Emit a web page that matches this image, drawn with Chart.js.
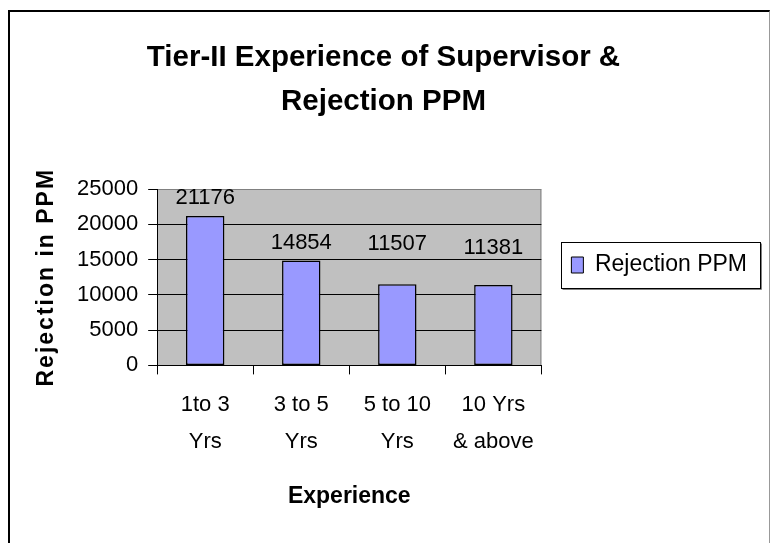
<!DOCTYPE html>
<html>
<head>
<meta charset="utf-8">
<script src="https://cdn.jsdelivr.net/npm/chart.js@4.4.1/dist/chart.umd.min.js"></script>
<style>
  html, body { margin: 0; padding: 0; background: #fff; overflow: hidden; }
  #wrap { position: relative; width: 770px; height: 543px; }
  #frame { position: absolute; left: 8px; top: 10px; width: 759px; height: 600px;
           border-left: 2px solid #000; border-top: 2px solid #000; border-right: 1px solid #999;
           pointer-events: none; }
  canvas { position: absolute; left: 0; top: 0; }
</style>
</head>
<body>
<div id="wrap">
  <canvas id="chart" width="770" height="543"></canvas>
  <div id="frame"></div>
</div>
<script>
// ---- chart data ----
const categories = [["1to 3", "Yrs"], ["3 to 5", "Yrs"], ["5 to 10", "Yrs"], ["10 Yrs", "& above"]];
const rejectionPPM = [21176, 14854, 11507, 11381];
const seriesName = "Rejection PPM";
const titleLines = ["Tier-II Experience of Supervisor &", "Rejection PPM"];
const yMax = 25000;
const yStep = 5000;
// how far each value label sits above its bar (px), as placed in the original
const labelRaise = [18, 18, 40, 37];

const FONT = "'Liberation Sans', Arial, sans-serif";

// grey plot area with grey top/right edge
const plotBack = {
  id: "plotBack",
  beforeDraw(chart) {
    const { ctx, chartArea: a } = chart;
    ctx.save();
    ctx.fillStyle = "#c0c0c0";
    ctx.fillRect(a.left, a.top, a.right - a.left, a.bottom - a.top);
    ctx.strokeStyle = "#808080";
    ctx.lineWidth = 1;
    ctx.beginPath();
    ctx.moveTo(a.left, a.top + 0.5);
    ctx.lineTo(a.right - 0.5, a.top + 0.5);
    ctx.lineTo(a.right - 0.5, a.bottom);
    ctx.stroke();
    ctx.restore();

    // spaced-out letters on the y axis title
    const s = chart.scales.y;
    if (s && !s._spaced) {
      const orig = s.drawTitle;
      s.drawTitle = function () {
        this.ctx.save();
        this.ctx.letterSpacing = "2px";
        orig.call(this);
        this.ctx.restore();
      };
      s._spaced = true;
    }
  }
};

// value labels over the bars
const valueLabels = {
  id: "valueLabels",
  afterDatasetsDraw(chart) {
    const { ctx } = chart;
    const meta = chart.getDatasetMeta(0);
    ctx.save();
    ctx.font = "22px " + FONT;
    ctx.fillStyle = "#000";
    ctx.textAlign = "center";
    ctx.textBaseline = "middle";
    meta.data.forEach((bar, i) => {
      ctx.fillText(String(rejectionPPM[i]), bar.x, bar.y - labelRaise[i]);
    });
    ctx.restore();
  }
};

// box around the legend
const legendFrame = {
  id: "legendFrame",
  afterDraw(chart) {
    const lg = chart.legend;
    if (!lg || !lg.legendHitBoxes.length) return;
    const h = lg.legendHitBoxes[0];
    const cy = h.top + h.height / 2;
    const x0 = Math.round(h.left - 10) + 0.5;
    const x1 = Math.round(h.left + h.width + 13) + 0.5;
    const y0 = Math.round(cy - 23) + 0.5;
    const y1 = Math.round(cy + 23) + 0.5;
    const { ctx } = chart;
    ctx.save();
    ctx.strokeStyle = "#000";
    ctx.lineWidth = 1;
    ctx.strokeRect(x0, y0, x1 - x0, y1 - y0);
    ctx.strokeStyle = "#808080";
    ctx.beginPath();
    ctx.moveTo(x0 + 1, y1 + 1);
    ctx.lineTo(x1 + 1, y1 + 1);
    ctx.lineTo(x1 + 1, y0 + 1);
    ctx.stroke();
    ctx.restore();
  }
};

new Chart(document.getElementById("chart"), {
  type: "bar",
  data: {
    labels: categories,
    datasets: [{
      label: seriesName,
      data: rejectionPPM,
      backgroundColor: "#9999ff",
      borderColor: "#000",
      borderWidth: 1.5,
      borderSkipped: false,
      barPercentage: 0.4,
      categoryPercentage: 1.0
    }]
  },
  options: {
    responsive: false,
    animation: false,
    events: [],
    layout: { padding: { top: 10, left: 10, right: 13, bottom: 23 } },
    plugins: {
      title: {
        display: true,
        text: titleLines,
        color: "#000",
        font: { family: FONT, size: 29.5, weight: "bold", lineHeight: 44 / 29.5 },
        padding: { top: 26, bottom: 65 }
      },
      legend: {
        display: true,
        position: "right",
        maxWidth: 300,
        labels: {
          color: "#000",
          font: { family: FONT, size: 23 },
          boxWidth: 12,
          boxHeight: 16,
          padding: 30,
          generateLabels: () => [{
            text: seriesName,
            fillStyle: "#9999ff",
            strokeStyle: "#000",
            lineWidth: 1,
            datasetIndex: 0
          }]
        }
      },
      tooltip: { enabled: false }
    },
    scales: {
      x: {
        grid: {
          offset: true,
          drawOnChartArea: false,
          drawTicks: true,
          tickLength: 9,
          color: "#000"
        },
        border: { display: true, color: "#000", width: 1 },
        ticks: {
          color: "#000",
          padding: 12,
          maxRotation: 0,
          autoSkip: false,
          font: { family: FONT, size: 22, lineHeight: 37 / 22 }
        },
        title: {
          display: true,
          text: "Experience",
          color: "#000",
          font: { family: FONT, size: 23, weight: "bold", lineHeight: 1.2 },
          padding: { top: 10, bottom: 10 }
        }
      },
      y: {
        min: 0,
        max: yMax,
        grid: {
          color: (c) => (c.tick && c.tick.value === yMax ? "#808080" : "#000"),
          tickColor: "#000",
          tickLength: 9,
          drawTicks: true
        },
        border: { display: true, color: "#000", width: 1 },
        ticks: {
          stepSize: yStep,
          color: "#000",
          padding: 10,
          font: { family: FONT, size: 22 },
          callback: (v) => String(v)
        },
        title: {
          display: true,
          text: "Rejection in PPM",
          color: "#000",
          font: { family: FONT, size: 23, weight: "bold", lineHeight: 1.0 },
          padding: { top: 25, bottom: 9 }
        }
      }
    }
  },
  plugins: [plotBack, valueLabels, legendFrame]
});
</script>
</body>
</html>
